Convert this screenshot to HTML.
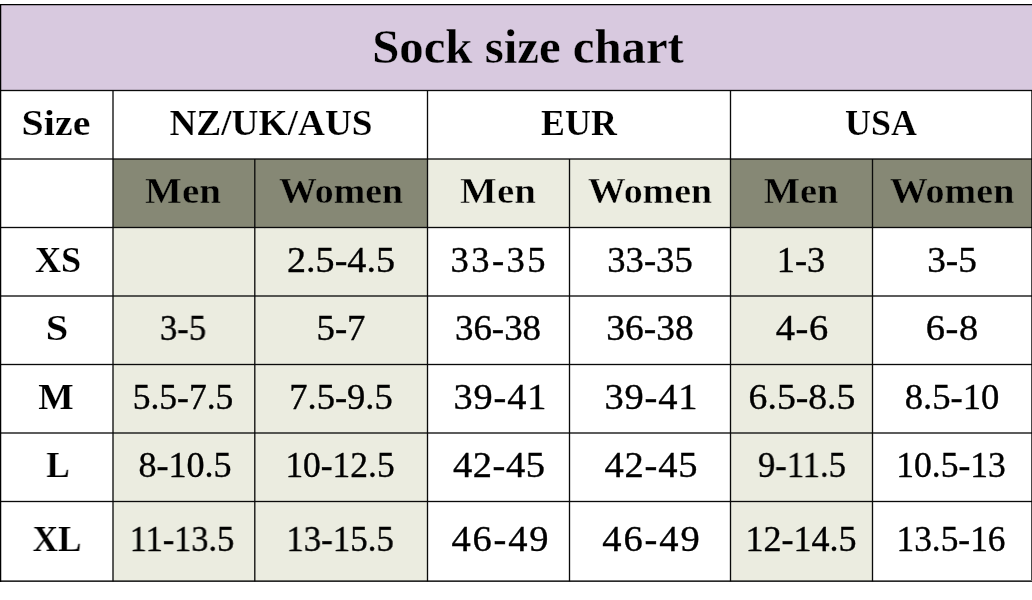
<!DOCTYPE html>
<html lang="en">
<head>
<meta charset="utf-8">
<title>Sock size chart</title>
<style>
html,body{margin:0;padding:0;background:#fff;}
body{width:1032px;height:600px;position:relative;overflow:hidden;font-family:"Liberation Serif",serif;color:#000;}
.t{position:absolute;white-space:nowrap;transform-origin:50% 50%;will-change:transform;}
.b{font-weight:bold;}
.d{-webkit-text-stroke:0.35px #000;}
</style>
</head>
<body>
<svg width="1032" height="600" viewBox="0 0 1032 600" style="position:absolute;left:0;top:0">
<rect x="0.5" y="4.5" width="1031.5" height="86" fill="#d8c9df"/>
<rect x="113" y="159" width="314.5" height="68.5" fill="#868875"/>
<rect x="427.5" y="159" width="303" height="68.5" fill="#ebece0"/>
<rect x="730.5" y="159" width="301.5" height="68.5" fill="#868875"/>
<rect x="113" y="227.5" width="314.5" height="353.5" fill="#ebece0"/>
<rect x="730.5" y="227.5" width="142" height="353.5" fill="#ebece0"/>
<rect x="0" y="4" width="1032" height="1.25" fill="#000"/>
<rect x="0" y="89.84" width="1032" height="1.32" fill="#0a0a0a"/>
<rect x="0" y="158.34" width="1032" height="1.32" fill="#0a0a0a"/>
<rect x="0" y="226.84" width="1032" height="1.32" fill="#0a0a0a"/>
<rect x="0" y="295.34" width="1032" height="1.32" fill="#0a0a0a"/>
<rect x="0" y="363.84" width="1032" height="1.32" fill="#0a0a0a"/>
<rect x="0" y="432.34" width="1032" height="1.32" fill="#0a0a0a"/>
<rect x="0" y="500.84" width="1032" height="1.32" fill="#0a0a0a"/>
<rect x="0" y="580" width="1032" height="1" fill="#000" fill-opacity="0.57"/>
<rect x="0" y="581" width="1032" height="1" fill="#000" fill-opacity="0.84"/>
<rect x="0" y="4" width="1.25" height="578" fill="#000"/>
<rect x="1031" y="90" width="1" height="490" fill="#000" fill-opacity="0.72"/>
<rect x="112.34" y="90.5" width="1.32" height="491" fill="#0a0a0a"/>
<rect x="426.84" y="90.5" width="1.32" height="491" fill="#0a0a0a"/>
<rect x="729.84" y="90.5" width="1.32" height="491" fill="#0a0a0a"/>
<rect x="254.14" y="159" width="1.32" height="422.5" fill="#0a0a0a"/>
<rect x="568.84" y="159" width="1.32" height="422.5" fill="#0a0a0a"/>
<rect x="871.84" y="159" width="1.32" height="422.5" fill="#0a0a0a"/>
</svg>
<div id="title" class="t b" style="left:528.49px;top:20px;font-size:48px;line-height:53px;transform:translateX(-50%) scaleX(1.0167);-webkit-text-stroke:0.3px #d8c9df;">Sock size chart</div>
<div id="h0" class="t b" style="left:56.36px;top:104px;font-size:35px;line-height:39px;transform:translateX(-50%) scaleX(1.1410);-webkit-text-stroke:0.2px #fff;">Size</div>
<div id="h1" class="t b" style="left:270.61px;top:104px;font-size:35px;line-height:39px;transform:translateX(-50%) scaleX(1.0663);-webkit-text-stroke:0.2px #fff;">NZ/UK/AUS</div>
<div id="h2" class="t b" style="left:578.79px;top:104px;font-size:35px;line-height:39px;transform:translateX(-50%) scaleX(1.0253);-webkit-text-stroke:0.2px #fff;">EUR</div>
<div id="h3" class="t b" style="left:881.41px;top:104px;font-size:35px;line-height:39px;transform:translateX(-50%) scaleX(1.0261);-webkit-text-stroke:0.2px #fff;">USA</div>
<div id="s0" class="t b" style="left:183.28px;top:170px;font-size:36.5px;line-height:41px;transform:translateX(-50%) scaleX(1.0716);-webkit-text-stroke:0.45px #868875;">Men</div>
<div id="s1" class="t b" style="left:341.34px;top:170px;font-size:36.5px;line-height:41px;transform:translateX(-50%) scaleX(1.0374);-webkit-text-stroke:0.45px #868875;">Women</div>
<div id="s2" class="t b" style="left:498.38px;top:170px;font-size:36.5px;line-height:41px;transform:translateX(-50%) scaleX(1.0678);-webkit-text-stroke:0.45px #ebece0;">Men</div>
<div id="s3" class="t b" style="left:650.08px;top:170px;font-size:36.5px;line-height:41px;transform:translateX(-50%) scaleX(1.0405);-webkit-text-stroke:0.45px #ebece0;">Women</div>
<div id="s4" class="t b" style="left:801.14px;top:170px;font-size:36.5px;line-height:41px;transform:translateX(-50%) scaleX(1.0524);-webkit-text-stroke:0.45px #868875;">Men</div>
<div id="s5" class="t b" style="left:952.27px;top:170px;font-size:36.5px;line-height:41px;transform:translateX(-50%) scaleX(1.0410);-webkit-text-stroke:0.45px #868875;">Women</div>
<div id="l0" class="t b" style="left:57.54px;top:240px;font-size:36px;line-height:40px;transform:translateX(-50%) scaleX(1.0046);-webkit-text-stroke:0.2px #fff;">XS</div>
<div id="l1" class="t b" style="left:57.13px;top:308px;font-size:36px;line-height:40px;transform:translateX(-50%) scaleX(1.1244);-webkit-text-stroke:0.2px #fff;">S</div>
<div id="l2" class="t b" style="left:56.32px;top:377px;font-size:36px;line-height:40px;transform:translateX(-50%) scaleX(1.0435);-webkit-text-stroke:0.2px #fff;">M</div>
<div id="l3" class="t b" style="left:57.83px;top:445px;font-size:36px;line-height:40px;transform:translateX(-50%) scaleX(0.9718);-webkit-text-stroke:0.2px #fff;">L</div>
<div id="l4" class="t b" style="left:56.62px;top:519px;font-size:36px;line-height:40px;transform:translateX(-50%) scaleX(0.9748);-webkit-text-stroke:0.2px #fff;">XL</div>
<div id="d0_1" class="t d" style="left:340.69px;top:241px;font-size:35px;line-height:39px;transform:translateX(-50%) scaleX(1.0881);">2.5-4.5</div>
<div id="d0_2" class="t d" style="left:498.41px;top:241px;font-size:35px;line-height:39px;transform:translateX(-50%) scaleX(1.0436);letter-spacing:2.295px;">33-3<span style="letter-spacing:0">5</span></div>
<div id="d0_3" class="t d" style="left:650.35px;top:241px;font-size:35px;line-height:39px;transform:translateX(-50%) scaleX(1.0456);">33-35</div>
<div id="d0_4" class="t d" style="left:800.85px;top:241px;font-size:35px;line-height:39px;transform:translateX(-50%) scaleX(1.0366);">1-3</div>
<div id="d0_5" class="t d" style="left:951.94px;top:241px;font-size:35px;line-height:39px;transform:translateX(-50%) scaleX(1.0645);">3-5</div>
<div id="d1_0" class="t d" style="left:183.49px;top:309px;font-size:35px;line-height:39px;transform:translateX(-50%) scaleX(0.9887);">3-5</div>
<div id="d1_1" class="t d" style="left:340.70px;top:309px;font-size:35px;line-height:39px;transform:translateX(-50%) scaleX(1.0496);">5-7</div>
<div id="d1_2" class="t d" style="left:498.45px;top:309px;font-size:35px;line-height:39px;transform:translateX(-50%) scaleX(1.0555);">36-38</div>
<div id="d1_3" class="t d" style="left:650.06px;top:309px;font-size:35px;line-height:39px;transform:translateX(-50%) scaleX(1.0696);">36-38</div>
<div id="d1_4" class="t d" style="left:802.05px;top:309px;font-size:35px;line-height:39px;transform:translateX(-50%) scaleX(1.1000);letter-spacing:0.444px;">4-<span style="letter-spacing:0">6</span></div>
<div id="d1_5" class="t d" style="left:952.46px;top:309px;font-size:35px;line-height:39px;transform:translateX(-50%) scaleX(1.1000);letter-spacing:0.592px;">6-<span style="letter-spacing:0">8</span></div>
<div id="d2_0" class="t d" style="left:183.13px;top:378px;font-size:35px;line-height:39px;transform:translateX(-50%) scaleX(1.0134);">5.5-7.5</div>
<div id="d2_1" class="t d" style="left:340.96px;top:378px;font-size:35px;line-height:39px;transform:translateX(-50%) scaleX(1.0439);">7.5-9.5</div>
<div id="d2_2" class="t d" style="left:499.54px;top:378px;font-size:35px;line-height:39px;transform:translateX(-50%) scaleX(1.0952);letter-spacing:0.827px;">39-4<span style="letter-spacing:0">1</span></div>
<div id="d2_3" class="t d" style="left:650.70px;top:378px;font-size:35px;line-height:39px;transform:translateX(-50%) scaleX(1.1000);letter-spacing:0.689px;">39-4<span style="letter-spacing:0">1</span></div>
<div id="d2_4" class="t d" style="left:801.65px;top:378px;font-size:35px;line-height:39px;transform:translateX(-50%) scaleX(1.0769);">6.5-8.5</div>
<div id="d2_5" class="t d" style="left:952.31px;top:378px;font-size:35px;line-height:39px;transform:translateX(-50%) scaleX(1.0473);">8.5-10</div>
<div id="d3_0" class="t d" style="left:184.69px;top:446px;font-size:35px;line-height:39px;transform:translateX(-50%) scaleX(1.0308);">8-10.5</div>
<div id="d3_1" class="t d" style="left:340.09px;top:446px;font-size:35px;line-height:39px;transform:translateX(-50%) scaleX(1.0122);">10-12.5</div>
<div id="d3_2" class="t d" style="left:498.93px;top:446px;font-size:35px;line-height:39px;transform:translateX(-50%) scaleX(1.1000);letter-spacing:0.454px;">42-4<span style="letter-spacing:0">5</span></div>
<div id="d3_3" class="t d" style="left:650.67px;top:446px;font-size:35px;line-height:39px;transform:translateX(-50%) scaleX(1.1000);letter-spacing:0.677px;">42-4<span style="letter-spacing:0">5</span></div>
<div id="d3_4" class="t d" style="left:802.11px;top:446px;font-size:35px;line-height:39px;transform:translateX(-50%) scaleX(0.9890);">9-11.5</div>
<div id="d3_5" class="t d" style="left:951.07px;top:446px;font-size:35px;line-height:39px;transform:translateX(-50%) scaleX(1.0155);">10.5-13</div>
<div id="d4_0" class="t d" style="left:182.07px;top:520px;font-size:35px;line-height:39px;transform:translateX(-50%) scaleX(0.9822);">11-13.5</div>
<div id="d4_1" class="t d" style="left:340.45px;top:520px;font-size:35px;line-height:39px;transform:translateX(-50%) scaleX(0.9957);">13-15.5</div>
<div id="d4_2" class="t d" style="left:499.61px;top:520px;font-size:35px;line-height:39px;transform:translateX(-50%) scaleX(1.1000);letter-spacing:1.618px;">46-4<span style="letter-spacing:0">9</span></div>
<div id="d4_3" class="t d" style="left:650.67px;top:520px;font-size:35px;line-height:39px;transform:translateX(-50%) scaleX(1.0993);letter-spacing:1.763px;">46-4<span style="letter-spacing:0">9</span></div>
<div id="d4_4" class="t d" style="left:800.74px;top:520px;font-size:35px;line-height:39px;transform:translateX(-50%) scaleX(1.0302);">12-14.5</div>
<div id="d4_5" class="t d" style="left:950.66px;top:520px;font-size:35px;line-height:39px;transform:translateX(-50%) scaleX(1.0099);">13.5-16</div>
</body>
</html>
